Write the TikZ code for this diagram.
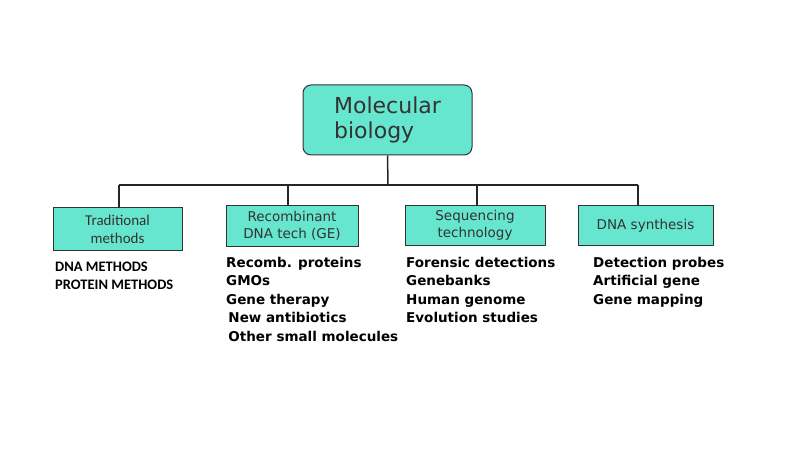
\documentclass[tikz,border=0pt]{standalone}
\usepackage{fontspec}
\setmainfont{DejaVu Sans}
\newfontfamily\carfont{Carlito}
\begin{document}
\begin{tikzpicture}[x=1pt,y=-1pt,
 box/.style={draw=black!80,line width=1pt,fill=boxc,inner sep=0pt,align=center,font=\fontsize{13.5}{17}\selectfont,text=black!80},
 lst/.style={anchor=north west,align=left,font=\bfseries\fontsize{13.5}{18.5}\selectfont,inner sep=0pt},
 ln/.style={line width=1.5pt,black!85}]
\definecolor{boxc}{HTML}{66E6CE}
\useasboundingbox (0,0) rectangle (800,449);
\node[box,rounded corners=8pt,minimum width=169pt,minimum height=70pt,font=\fontsize{22}{25}\selectfont,align=left] (root) at (387.5,120) {Molecular\\biology};
\node[box,minimum width=129pt,minimum height=42pt,font=\carfont\fontsize{15}{18}\selectfont] (b1) at (117.5,229) {Traditional\\methods};
\node[box,minimum width=132pt,minimum height=40pt] (b2) at (292,226) {Recombinant\\DNA tech (GE)};
\node[box,minimum width=140pt,minimum height=39pt] (b3) at (475,225.5) {Sequencing\\technology};
\node[box,minimum width=135pt,minimum height=39pt] (b4) at (645.5,225.5) {DNA synthesis};
\coordinate (j) at (388,185);
\coordinate (l) at (119,185);
\coordinate (r) at (638,185);
\draw[ln] (root.south) -- (j);
\draw[ln] (l) -- (r);
\draw[ln] (l) -- (119,208);
\draw[ln] (288,185) -- (288,206);
\draw[ln] (477,185) -- (477,206);
\draw[ln] (r) -- (638,206);
\node[lst,font=\carfont\bfseries\fontsize{14.5}{18}\selectfont] (t1) at (55,262) {DNA METHODS\\PROTEIN METHODS};
\node[lst] (t2) at (226,257) {Recomb. proteins\\GMOs\\Gene therapy\\\,New antibiotics\\\,Other small molecules};
\node[lst] (t3) at (406,257) {Forensic detections\\Genebanks\\Human genome\\Evolution studies};
\node[lst] (t4) at (593,257) {Detection probes\\Artificial gene\\Gene mapping};
\end{tikzpicture}
\end{document}
